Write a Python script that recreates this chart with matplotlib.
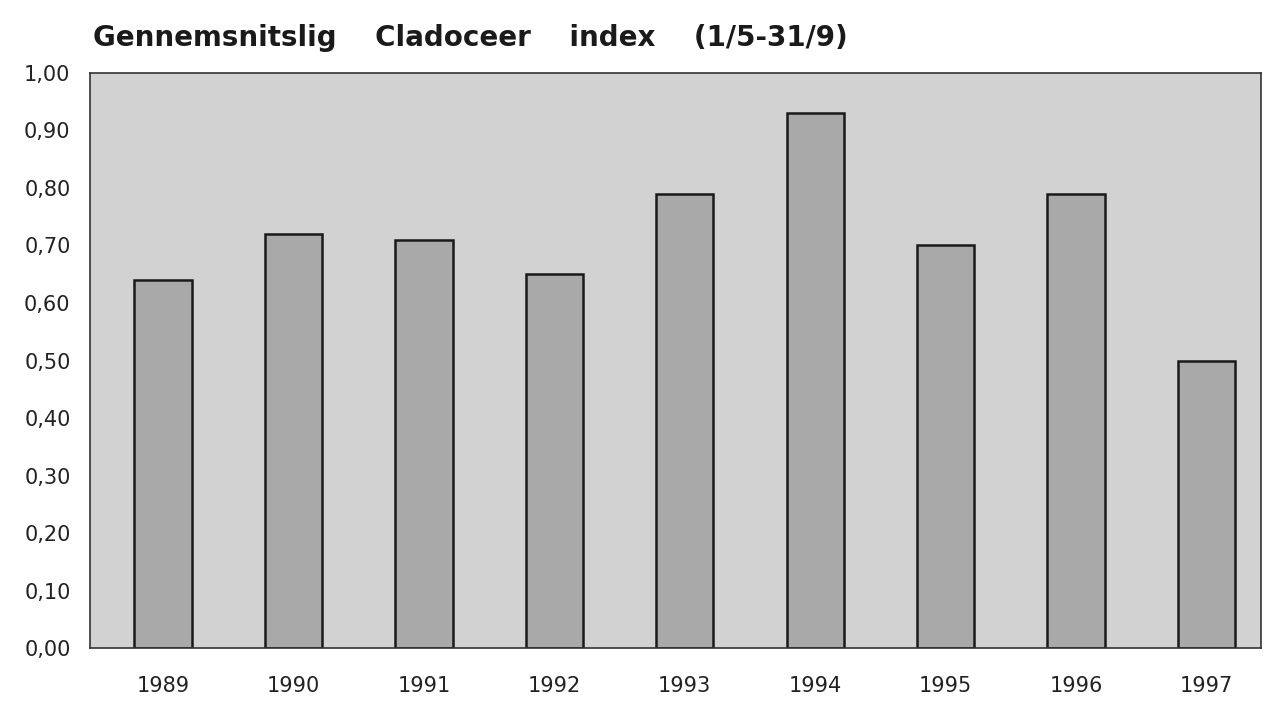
import matplotlib.pyplot as plt
import numpy as np

# =========================
# DATA
# =========================

years = ["1989", "1990", "1991", "1992", "1993", "1994", "1995", "1996", "1997"]
index_values = [0.64, 0.72, 0.71, 0.65, 0.79, 0.93, 0.70, 0.79, 0.50]
y_ticks = [0.0, 0.1, 0.2, 0.3, 0.4, 0.5, 0.6, 0.7, 0.8, 0.9, 1.0]
y_tick_labels = ["0,00", "0,10", "0,20", "0,30", "0,40", "0,50",
                 "0,60", "0,70", "0,80", "0,90", "1,00"]

# =========================
# PLOT
# =========================

plt.rcParams["font.family"] = ["DejaVu Sans"]

fig = plt.figure(figsize=(12.76, 7.14), dpi=100)
ax = fig.add_axes([0.0705, 0.092, 0.918, 0.806])
ax.set_facecolor("#d2d2d2")

x = np.arange(len(years))
ax.bar(x, index_values, width=0.44, color="#a9a9a9", edgecolor="#1a1a1a", linewidth=1.8)

ax.set_xlim(-0.56, 8.42)
ax.set_ylim(0, 1.0)
ax.set_yticks(y_ticks)
ax.set_yticklabels(y_tick_labels)
ax.set_xticks(x)
ax.set_xticklabels(years)
ax.tick_params(axis="both", length=0, labelsize=15, colors="#222222")
ax.tick_params(axis="y", pad=14)
ax.tick_params(axis="x", pad=20)

for side in ax.spines.values():
    side.set_linestyle((0, (1, 1)))
    side.set_linewidth(1.2)
    side.set_color("#333333")

fig.text(0.073, 0.935, "Gennemsnitslig    Cladoceer    index    (1/5-31/9)",
         fontsize=20, fontweight="bold", color="#1a1a1a")

fig.savefig("out.png", dpi=100)
